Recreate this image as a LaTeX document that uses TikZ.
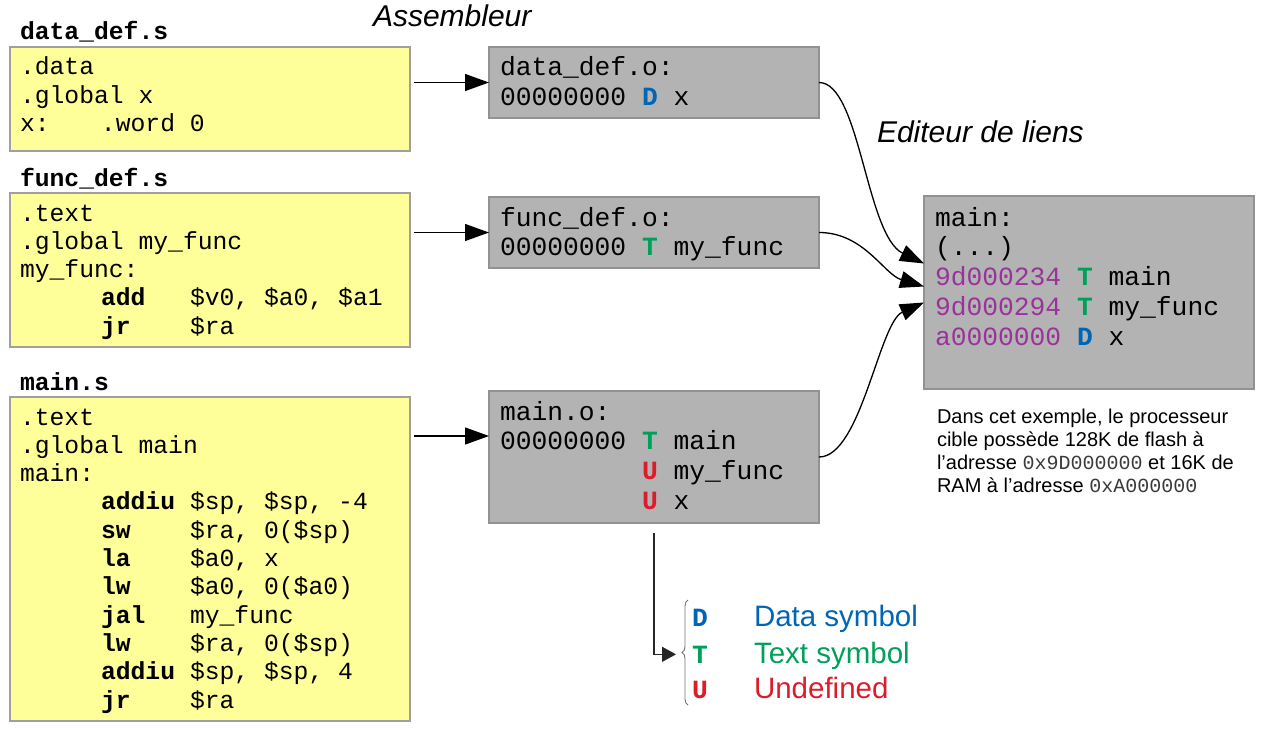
\documentclass[tikz,border=0pt]{standalone}
\usepackage{fontspec}
\setmainfont{Liberation Sans}
\setmonofont{Liberation Mono}
\usepackage{tikz}
\usetikzlibrary{arrows.meta,calc,decorations.pathreplacing}
\definecolor{srcFill}{HTML}{FFFF99}
\definecolor{srcEdge}{HTML}{A0A0A0}
\definecolor{objFill}{HTML}{B3B3B3}
\definecolor{objEdge}{HTML}{929292}
\definecolor{symD}{HTML}{0066B3}
\definecolor{symT}{HTML}{00A05A}
\definecolor{symU}{HTML}{DD1C2B}
\definecolor{addrCol}{HTML}{993399}
\definecolor{noteMono}{HTML}{3A3A3A}
\newcommand{\srcfont}{\ttfamily\fontsize{24.7}{28.3}\selectfont}
\newcommand{\objfont}{\ttfamily\fontsize{26.3}{29.8}\selectfont}
\newcommand{\firstrow}[1][22pt]{\rule{0pt}{#1}}
\newcommand{\tabcol}[1]{\makebox[81pt][l]{#1}}
\newcommand{\instr}[2]{\hspace*{81pt}\makebox[89pt][l]{\bfseries #1}#2}
\newcommand{\symD}{{\color{symD}\bfseries D}}
\newcommand{\symT}{{\color{symT}\bfseries T}}
\newcommand{\symU}{{\color{symU}\bfseries U}}
\newcommand{\addr}[1]{{\color{addrCol}#1}}
\newcommand{\notemono}[1]{{\ttfamily\color{noteMono}#1}}

\begin{document}
\begin{tikzpicture}[x=1pt, y=-1pt, inner sep=0pt, outer sep=0pt,
    srcbox/.style={draw=srcEdge, fill=srcFill, line width=1.2pt, anchor=north west, minimum width=400pt},
    objbox/.style={draw=objEdge, fill=objFill, line width=1.2pt, anchor=north west, minimum width=330pt},
    code/.style={anchor=north west, align=left},
    filename/.style={anchor=base west, font=\ttfamily\bfseries\fontsize{24.7}{28}\selectfont},
    stage/.style={anchor=base west, font=\itshape\fontsize{30}{34}\selectfont},
    link/.style={draw=black, line width=1.3pt, -{Triangle[length=24pt,width=17pt]}},
    keyline/.style={draw=black!85, line width=1.3pt, -{Triangle[length=14pt,width=15pt]}},
    keybrace/.style={draw=black!55, line width=0.9pt, decorate, decoration={brace, amplitude=6pt}},
    keysym/.style={anchor=base west, font=\objfont\bfseries},
    keytext/.style={anchor=base west, font=\fontsize{29.5}{34}\selectfont}]
  \useasboundingbox (0,0) rectangle (1266,730);

  % sources
  \node[filename] (dataName) at (20,40) {data\_def.s};
  \node[srcbox, minimum height=104pt] (dataS) at (10,47) {};
  \node[code, font=\srcfont] (dataSrc) at (20,53)
    {\firstrow.data\\.global x\\\tabcol{x:}.word 0};
  \node[filename] (funcName) at (20,187) {func\_def.s};
  \node[srcbox, minimum height=154pt] (funcS) at (10,193) {};
  \node[code, font=\srcfont] (funcSrc) at (20,199)
    {\firstrow.text\\.global my\_func\\my\_func:\\\instr{add}{\$v0, \$a0, \$a1}\\\instr{jr}{\$ra}};
  \node[filename] (mainName) at (20,390) {main.s};
  \node[srcbox, minimum height=324pt] (mainS) at (10,397) {};
  \node[code, font=\srcfont] (mainSrc) at (20,403)
    {\firstrow.text\\.global main\\main:\\\instr{addiu}{\$sp, \$sp, -4}\\\instr{sw}{\$ra, 0(\$sp)}\\
     \instr{la}{\$a0, x}\\\instr{lw}{\$a0, 0(\$a0)}\\\instr{jal}{my\_func}\\\instr{lw}{\$ra, 0(\$sp)}\\
     \instr{addiu}{\$sp, \$sp, 4}\\\instr{jr}{\$ra}};

  % objects
  \node[stage] (asmLabel) at (373,27) {Assembleur};
  \node[objbox, minimum height=71pt] (dataO) at (489,47) {};
  \node[code, font=\objfont] (dataTxt) at (500,54) {\firstrow data\_def.o:\\00000000 \symD{} x};
  \node[objbox, minimum height=71pt] (funcO) at (489,197) {};
  \node[code, font=\objfont] (funcTxt) at (500,204) {\firstrow func\_def.o:\\00000000 \symT{} my\_func};
  \node[objbox, minimum height=132pt] (mainO) at (489,391) {};
  \node[code, font=\objfont] (mainTxt) at (500,398)
    {\firstrow main.o:\\00000000 \symT{} main\\\phantom{00000000} \symU{} my\_func\\\phantom{00000000} \symU{} x};

  % linked
  \node[stage] (ldLabel) at (877,143) {Editeur de liens};
  \node[objbox, minimum height=193pt] (linked) at (924,196) {};
  \node[code, font=\objfont] (linkTxt) at (935,204)
    {\firstrow main:\\(...)\\\addr{9d000234} \symT{} main\\\addr{9d000294} \symT{} my\_func\\\addr{a0000000} \symD{} x};
  \node[code, font=\fontsize{20}{23}\selectfont] (note) at (937,405)
    {\firstrow[18pt]Dans cet exemple, le processeur\\cible possède 128K de flash à\\
     l’adresse \notemono{0x9D000000} et 16K de\\RAM à l’adresse \notemono{0xA000000}};

  % arrows
  \draw[link] ([xshift=4pt]dataS.east |- dataO.west) -- (dataO.west);
  \draw[link] ([xshift=4pt]funcS.east |- funcO.west) -- (funcO.west);
  \coordinate (mainIn) at ($(mainO.north west)+(0,45)$);
  \draw[link] ([xshift=4pt]mainS.east |- mainIn) -- (mainIn);
  \draw[link] (dataO.east) .. controls +(41,0) and +(-58,-28) .. ($(linked.west)+(0,-29)$);
  \draw[link] (funcO.east) .. controls +(45,0) and +(-40,-12) .. ($(linked.west)+(0,-6)$);
  \draw[link] (mainO.east) .. controls +(42,0) and +(-45,20) .. ($(linked.west)+(0,10)$);

  % key
  \node[keysym, text=symD] (keyD) at (692,626) {D};
  \node[keysym, text=symT] (keyT) at (692,663) {T};
  \node[keysym, text=symU] (keyU) at (692,698) {U};
  \node[keytext, text=symD] (keyDtext) at (754,626) {Data symbol};
  \node[keytext, text=symT] (keyTtext) at (754,663) {Text symbol};
  \node[keytext, text=symU] (keyUtext) at (754,698) {Undefined};
  \draw[keyline] ([yshift=-10pt]mainO.south) |- ([xshift=-16pt]keyT.west);
  \draw[keybrace] (688,705) -- (688,600);
\end{tikzpicture}
\end{document}
